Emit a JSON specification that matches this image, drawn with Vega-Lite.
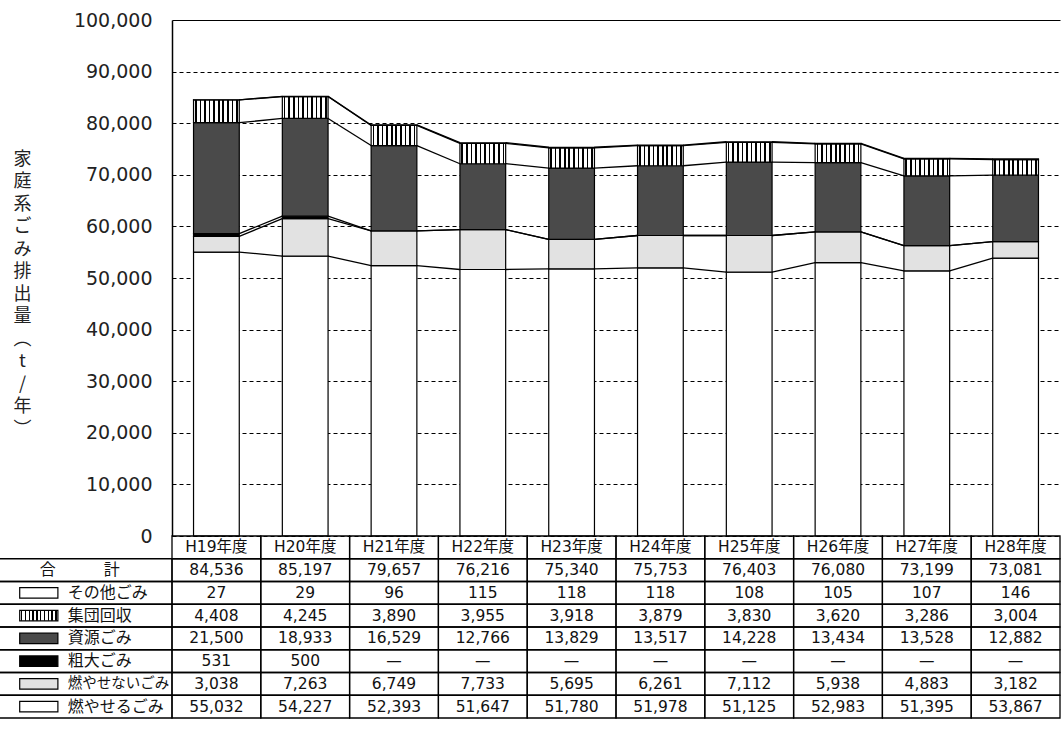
{
  "$schema": "https://vega.github.io/schema/vega-lite/v6.json",
  "width": 888,
  "height": 516,
  "autosize": {"type": "none"},
  "padding": {"left": 172, "top": 20, "right": 4, "bottom": 209},
  "background": "white",
  "config": {"view": {"stroke": null}},
  "data": {
    "values": [
      {"year": "H19年度", "cat": "燃やせるごみ", "value": 55032},
      {"year": "H20年度", "cat": "燃やせるごみ", "value": 54227},
      {"year": "H21年度", "cat": "燃やせるごみ", "value": 52393},
      {"year": "H22年度", "cat": "燃やせるごみ", "value": 51647},
      {"year": "H23年度", "cat": "燃やせるごみ", "value": 51780},
      {"year": "H24年度", "cat": "燃やせるごみ", "value": 51978},
      {"year": "H25年度", "cat": "燃やせるごみ", "value": 51125},
      {"year": "H26年度", "cat": "燃やせるごみ", "value": 52983},
      {"year": "H27年度", "cat": "燃やせるごみ", "value": 51395},
      {"year": "H28年度", "cat": "燃やせるごみ", "value": 53867},
      {"year": "H19年度", "cat": "燃やせないごみ", "value": 3038},
      {"year": "H20年度", "cat": "燃やせないごみ", "value": 7263},
      {"year": "H21年度", "cat": "燃やせないごみ", "value": 6749},
      {"year": "H22年度", "cat": "燃やせないごみ", "value": 7733},
      {"year": "H23年度", "cat": "燃やせないごみ", "value": 5695},
      {"year": "H24年度", "cat": "燃やせないごみ", "value": 6261},
      {"year": "H25年度", "cat": "燃やせないごみ", "value": 7112},
      {"year": "H26年度", "cat": "燃やせないごみ", "value": 5938},
      {"year": "H27年度", "cat": "燃やせないごみ", "value": 4883},
      {"year": "H28年度", "cat": "燃やせないごみ", "value": 3182},
      {"year": "H19年度", "cat": "粗大ごみ", "value": 531},
      {"year": "H20年度", "cat": "粗大ごみ", "value": 500},
      {"year": "H21年度", "cat": "粗大ごみ", "value": null},
      {"year": "H22年度", "cat": "粗大ごみ", "value": null},
      {"year": "H23年度", "cat": "粗大ごみ", "value": null},
      {"year": "H24年度", "cat": "粗大ごみ", "value": null},
      {"year": "H25年度", "cat": "粗大ごみ", "value": null},
      {"year": "H26年度", "cat": "粗大ごみ", "value": null},
      {"year": "H27年度", "cat": "粗大ごみ", "value": null},
      {"year": "H28年度", "cat": "粗大ごみ", "value": null},
      {"year": "H19年度", "cat": "資源ごみ", "value": 21500},
      {"year": "H20年度", "cat": "資源ごみ", "value": 18933},
      {"year": "H21年度", "cat": "資源ごみ", "value": 16529},
      {"year": "H22年度", "cat": "資源ごみ", "value": 12766},
      {"year": "H23年度", "cat": "資源ごみ", "value": 13829},
      {"year": "H24年度", "cat": "資源ごみ", "value": 13517},
      {"year": "H25年度", "cat": "資源ごみ", "value": 14228},
      {"year": "H26年度", "cat": "資源ごみ", "value": 13434},
      {"year": "H27年度", "cat": "資源ごみ", "value": 13528},
      {"year": "H28年度", "cat": "資源ごみ", "value": 12882},
      {"year": "H19年度", "cat": "集団回収", "value": 4408},
      {"year": "H20年度", "cat": "集団回収", "value": 4245},
      {"year": "H21年度", "cat": "集団回収", "value": 3890},
      {"year": "H22年度", "cat": "集団回収", "value": 3955},
      {"year": "H23年度", "cat": "集団回収", "value": 3918},
      {"year": "H24年度", "cat": "集団回収", "value": 3879},
      {"year": "H25年度", "cat": "集団回収", "value": 3830},
      {"year": "H26年度", "cat": "集団回収", "value": 3620},
      {"year": "H27年度", "cat": "集団回収", "value": 3286},
      {"year": "H28年度", "cat": "集団回収", "value": 3004},
      {"year": "H19年度", "cat": "その他ごみ", "value": 27},
      {"year": "H20年度", "cat": "その他ごみ", "value": 29},
      {"year": "H21年度", "cat": "その他ごみ", "value": 96},
      {"year": "H22年度", "cat": "その他ごみ", "value": 115},
      {"year": "H23年度", "cat": "その他ごみ", "value": 118},
      {"year": "H24年度", "cat": "その他ごみ", "value": 118},
      {"year": "H25年度", "cat": "その他ごみ", "value": 108},
      {"year": "H26年度", "cat": "その他ごみ", "value": 105},
      {"year": "H27年度", "cat": "その他ごみ", "value": 107},
      {"year": "H28年度", "cat": "その他ごみ", "value": 146}
    ]
  },
  "layer": [
    {
      "transform": [
        {"calculate": "indexof(['燃やせるごみ','燃やせないごみ','粗大ごみ','資源ごみ','集団回収','その他ごみ'], datum.cat)", "as": "ord"},
        {"stack": "value", "groupby": ["year"], "sort": [{"field": "ord", "order": "ascending"}], "as": ["bot", "top"]}
      ],
      "layer": [
        {
          "transform": [{"filter": "datum.value != null"}],
          "mark": {"type": "bar", "width": {"band": 0.515}, "stroke": "#000", "strokeWidth": 1.2},
          "encoding": {
            "x": {"field": "year", "type": "nominal", "axis": null,
                  "scale": {"domain": ["H19年度", "H20年度", "H21年度", "H22年度", "H23年度", "H24年度", "H25年度", "H26年度", "H27年度", "H28年度"], "paddingInner": 0, "paddingOuter": 0}},
            "y": {"field": "bot", "type": "quantitative",
                  "scale": {"domain": [0, 100000], "nice": false},
                  "axis": {
                    "values": [0, 10000, 20000, 30000, 40000, 50000, 60000, 70000, 80000, 90000, 100000],
                    "format": ",.0f",
                    "labelFont": "DejaVu Sans", "labelFontSize": 19, "labelColor": "#222", "labelPadding": 20,
                    "ticks": false,
                    "domain": true, "domainColor": "#000", "domainWidth": 1.5,
                    "grid": true, "gridColor": "#000", "gridWidth": 1, "gridOpacity": 1,
                    "gridDash": {"condition": {"test": "datum.value === 100000", "value": []}, "value": [4, 3]},
                    "title": ["家", "庭", "系", "ご", "み", "排", "出", "量", "︵", "t", "/", "年", "︶"],
                    "titleFont": "Noto Sans CJK JP", "titleFontSize": 18, "titleFontWeight": "normal", "titleColor": "#222",
                    "titleAngle": 0, "titleAlign": "center", "titleBaseline": "middle", "titleLineHeight": 22.5,
                    "titleX": -150, "titleY": 139
                  }},
            "y2": {"field": "top"},
            "fill": {
              "condition": [
                {"test": "datum.cat === '集団回収'", "value": {"gradient": "linear", "x1": 0, "y1": 0, "x2": 1, "y2": 0, "stops": [
                  {"offset": 0, "color": "#fff"},
                  {"offset": 0.032, "color": "#fff"}, {"offset": 0.032, "color": "#000"}, {"offset": 0.068, "color": "#000"}, {"offset": 0.068, "color": "#fff"},
                  {"offset": 0.132, "color": "#fff"}, {"offset": 0.132, "color": "#000"}, {"offset": 0.168, "color": "#000"}, {"offset": 0.168, "color": "#fff"},
                  {"offset": 0.232, "color": "#fff"}, {"offset": 0.232, "color": "#000"}, {"offset": 0.268, "color": "#000"}, {"offset": 0.268, "color": "#fff"},
                  {"offset": 0.332, "color": "#fff"}, {"offset": 0.332, "color": "#000"}, {"offset": 0.368, "color": "#000"}, {"offset": 0.368, "color": "#fff"},
                  {"offset": 0.432, "color": "#fff"}, {"offset": 0.432, "color": "#000"}, {"offset": 0.468, "color": "#000"}, {"offset": 0.468, "color": "#fff"},
                  {"offset": 0.532, "color": "#fff"}, {"offset": 0.532, "color": "#000"}, {"offset": 0.568, "color": "#000"}, {"offset": 0.568, "color": "#fff"},
                  {"offset": 0.632, "color": "#fff"}, {"offset": 0.632, "color": "#000"}, {"offset": 0.668, "color": "#000"}, {"offset": 0.668, "color": "#fff"},
                  {"offset": 0.732, "color": "#fff"}, {"offset": 0.732, "color": "#000"}, {"offset": 0.768, "color": "#000"}, {"offset": 0.768, "color": "#fff"},
                  {"offset": 0.832, "color": "#fff"}, {"offset": 0.832, "color": "#000"}, {"offset": 0.868, "color": "#000"}, {"offset": 0.868, "color": "#fff"},
                  {"offset": 0.932, "color": "#fff"}, {"offset": 0.932, "color": "#000"}, {"offset": 0.968, "color": "#000"}, {"offset": 0.968, "color": "#fff"},
                  {"offset": 1, "color": "#fff"}
                ]}},
                {"test": "datum.cat === '資源ごみ'", "value": "#4a4a4a"},
                {"test": "datum.cat === '粗大ごみ'", "value": "#000000"},
                {"test": "datum.cat === '燃やせないごみ'", "value": "#e2e2e2"}
              ],
              "value": "#ffffff"
            }
          }
        },
        {
          "transform": [
            {"window": [{"op": "lead", "field": "top", "as": "nextTop"}, {"op": "lead", "field": "year", "as": "nextYear"}],
             "groupby": ["cat"], "sort": [{"field": "year", "order": "ascending"}]},
            {"filter": "datum.nextYear != null"}
          ],
          "mark": {"type": "rule", "color": "#000", "strokeWidth": 1.3},
          "encoding": {
            "x": {"field": "year", "type": "nominal", "bandPosition": 0.7575, "axis": null,
                  "scale": {"domain": ["H19年度", "H20年度", "H21年度", "H22年度", "H23年度", "H24年度", "H25年度", "H26年度", "H27年度", "H28年度"], "paddingInner": 0, "paddingOuter": 0}},
            "x2": {"field": "nextYear", "bandPosition": 0.2425},
            "y": {"field": "top", "type": "quantitative", "scale": {"domain": [0, 100000], "nice": false}},
            "y2": {"field": "nextTop"}
          }
        }
      ]
    },
    {
      "layer": [
        {
          "layer": [
            {
              "mark": {"type": "rect", "fill": "#fff", "fillOpacity": 0, "stroke": "#000", "strokeWidth": 1.3},
              "encoding": {
                "x": {"field": "year", "type": "nominal", "axis": null,
                      "scale": {"domain": ["凡例", "区分", "H19年度", "H20年度", "H21年度", "H22年度", "H23年度", "H24年度", "H25年度", "H26年度", "H27年度", "H28年度"], "range": [-177.6, 888], "paddingInner": 0, "paddingOuter": 0}},
                "y": {"field": "cat", "type": "nominal", "axis": null,
                      "scale": {"domain": ["年度", "合計", "その他ごみ", "集団回収", "資源ごみ", "粗大ごみ", "燃やせないごみ", "燃やせるごみ"], "range": [516, 698], "paddingInner": 0, "paddingOuter": 0}}
              }
            },
            {
              "mark": {"type": "text", "font": "DejaVu Sans", "fontSize": 15.5, "color": "#111", "baseline": "middle", "align": "center"},
              "encoding": {
                "x": {"field": "year", "type": "nominal", "axis": null,
                      "scale": {"domain": ["凡例", "区分", "H19年度", "H20年度", "H21年度", "H22年度", "H23年度", "H24年度", "H25年度", "H26年度", "H27年度", "H28年度"], "range": [-177.6, 888], "paddingInner": 0, "paddingOuter": 0}},
                "y": {"field": "cat", "type": "nominal", "axis": null,
                      "scale": {"domain": ["年度", "合計", "その他ごみ", "集団回収", "資源ごみ", "粗大ごみ", "燃やせないごみ", "燃やせるごみ"], "range": [516, 698], "paddingInner": 0, "paddingOuter": 0}},
                "text": {"condition": {"test": "datum.value === null", "value": "—"}, "field": "value", "type": "quantitative", "format": ","}
              }
            }
          ]
        },
        {
          "transform": [{"aggregate": [{"op": "sum", "field": "value", "as": "total"}], "groupby": ["year"]}],
          "layer": [
            {
              "mark": {"type": "rect", "fill": "#fff", "fillOpacity": 0, "stroke": "#000", "strokeWidth": 1.3},
              "encoding": {
                "x": {"field": "year", "type": "nominal", "axis": null,
                      "scale": {"domain": ["凡例", "区分", "H19年度", "H20年度", "H21年度", "H22年度", "H23年度", "H24年度", "H25年度", "H26年度", "H27年度", "H28年度"], "range": [-177.6, 888], "paddingInner": 0, "paddingOuter": 0}},
                "y": {"datum": "年度", "type": "nominal", "axis": null,
                      "scale": {"domain": ["年度", "合計", "その他ごみ", "集団回収", "資源ごみ", "粗大ごみ", "燃やせないごみ", "燃やせるごみ"], "range": [516, 698], "paddingInner": 0, "paddingOuter": 0}}
              }
            },
            {
              "mark": {"type": "text", "font": "DejaVu Sans, Noto Sans CJK JP", "fontSize": 15.5, "color": "#111", "baseline": "middle", "align": "center"},
              "encoding": {
                "x": {"field": "year", "type": "nominal", "axis": null,
                      "scale": {"domain": ["凡例", "区分", "H19年度", "H20年度", "H21年度", "H22年度", "H23年度", "H24年度", "H25年度", "H26年度", "H27年度", "H28年度"], "range": [-177.6, 888], "paddingInner": 0, "paddingOuter": 0}},
                "y": {"datum": "年度", "type": "nominal", "axis": null,
                      "scale": {"domain": ["年度", "合計", "その他ごみ", "集団回収", "資源ごみ", "粗大ごみ", "燃やせないごみ", "燃やせるごみ"], "range": [516, 698], "paddingInner": 0, "paddingOuter": 0}},
                "text": {"field": "year", "type": "nominal"}
              }
            },
            {
              "mark": {"type": "rect", "fill": "#fff", "fillOpacity": 0, "stroke": "#000", "strokeWidth": 1.3},
              "encoding": {
                "x": {"field": "year", "type": "nominal", "axis": null,
                      "scale": {"domain": ["凡例", "区分", "H19年度", "H20年度", "H21年度", "H22年度", "H23年度", "H24年度", "H25年度", "H26年度", "H27年度", "H28年度"], "range": [-177.6, 888], "paddingInner": 0, "paddingOuter": 0}},
                "y": {"datum": "合計", "type": "nominal", "axis": null,
                      "scale": {"domain": ["年度", "合計", "その他ごみ", "集団回収", "資源ごみ", "粗大ごみ", "燃やせないごみ", "燃やせるごみ"], "range": [516, 698], "paddingInner": 0, "paddingOuter": 0}}
              }
            },
            {
              "mark": {"type": "text", "font": "DejaVu Sans", "fontSize": 15.5, "color": "#111", "baseline": "middle", "align": "center"},
              "encoding": {
                "x": {"field": "year", "type": "nominal", "axis": null,
                      "scale": {"domain": ["凡例", "区分", "H19年度", "H20年度", "H21年度", "H22年度", "H23年度", "H24年度", "H25年度", "H26年度", "H27年度", "H28年度"], "range": [-177.6, 888], "paddingInner": 0, "paddingOuter": 0}},
                "y": {"datum": "合計", "type": "nominal", "axis": null,
                      "scale": {"domain": ["年度", "合計", "その他ごみ", "集団回収", "資源ごみ", "粗大ごみ", "燃やせないごみ", "燃やせるごみ"], "range": [516, 698], "paddingInner": 0, "paddingOuter": 0}},
                "text": {"field": "total", "type": "quantitative", "format": ","}
              }
            }
          ]
        },
        {
          "transform": [{"aggregate": [{"op": "count", "as": "n"}], "groupby": ["cat"]}],
          "layer": [
            {
              "mark": {"type": "rect", "fill": "#fff", "fillOpacity": 0, "stroke": "#000", "strokeWidth": 1.3},
              "encoding": {
                "x": {"datum": "凡例", "type": "nominal", "bandPosition": 0, "axis": null,
                      "scale": {"domain": ["凡例", "区分", "H19年度", "H20年度", "H21年度", "H22年度", "H23年度", "H24年度", "H25年度", "H26年度", "H27年度", "H28年度"], "range": [-177.6, 888], "paddingInner": 0, "paddingOuter": 0}},
                "x2": {"datum": "区分", "bandPosition": 1},
                "y": {"field": "cat", "type": "nominal", "axis": null,
                      "scale": {"domain": ["年度", "合計", "その他ごみ", "集団回収", "資源ごみ", "粗大ごみ", "燃やせないごみ", "燃やせるごみ"], "range": [516, 698], "paddingInner": 0, "paddingOuter": 0}}
              }
            },
            {
              "mark": {"type": "rect", "width": {"band": 0.43}, "height": {"band": 0.46}, "stroke": "#000", "strokeWidth": 1.2},
              "encoding": {
                "x": {"datum": "凡例", "type": "nominal", "axis": null,
                      "scale": {"domain": ["凡例", "区分", "H19年度", "H20年度", "H21年度", "H22年度", "H23年度", "H24年度", "H25年度", "H26年度", "H27年度", "H28年度"], "range": [-177.6, 888], "paddingInner": 0, "paddingOuter": 0}},
                "y": {"field": "cat", "type": "nominal", "axis": null,
                      "scale": {"domain": ["年度", "合計", "その他ごみ", "集団回収", "資源ごみ", "粗大ごみ", "燃やせないごみ", "燃やせるごみ"], "range": [516, 698], "paddingInner": 0, "paddingOuter": 0}},
                "fill": {
                  "condition": [
                    {"test": "datum.cat === '集団回収'", "value": {"gradient": "linear", "x1": 0, "y1": 0, "x2": 1, "y2": 0, "stops": [
                      {"offset": 0, "color": "#fff"},
                      {"offset": 0.032, "color": "#fff"}, {"offset": 0.032, "color": "#000"}, {"offset": 0.068, "color": "#000"}, {"offset": 0.068, "color": "#fff"},
                      {"offset": 0.132, "color": "#fff"}, {"offset": 0.132, "color": "#000"}, {"offset": 0.168, "color": "#000"}, {"offset": 0.168, "color": "#fff"},
                      {"offset": 0.232, "color": "#fff"}, {"offset": 0.232, "color": "#000"}, {"offset": 0.268, "color": "#000"}, {"offset": 0.268, "color": "#fff"},
                      {"offset": 0.332, "color": "#fff"}, {"offset": 0.332, "color": "#000"}, {"offset": 0.368, "color": "#000"}, {"offset": 0.368, "color": "#fff"},
                      {"offset": 0.432, "color": "#fff"}, {"offset": 0.432, "color": "#000"}, {"offset": 0.468, "color": "#000"}, {"offset": 0.468, "color": "#fff"},
                      {"offset": 0.532, "color": "#fff"}, {"offset": 0.532, "color": "#000"}, {"offset": 0.568, "color": "#000"}, {"offset": 0.568, "color": "#fff"},
                      {"offset": 0.632, "color": "#fff"}, {"offset": 0.632, "color": "#000"}, {"offset": 0.668, "color": "#000"}, {"offset": 0.668, "color": "#fff"},
                      {"offset": 0.732, "color": "#fff"}, {"offset": 0.732, "color": "#000"}, {"offset": 0.768, "color": "#000"}, {"offset": 0.768, "color": "#fff"},
                      {"offset": 0.832, "color": "#fff"}, {"offset": 0.832, "color": "#000"}, {"offset": 0.868, "color": "#000"}, {"offset": 0.868, "color": "#fff"},
                      {"offset": 0.932, "color": "#fff"}, {"offset": 0.932, "color": "#000"}, {"offset": 0.968, "color": "#000"}, {"offset": 0.968, "color": "#fff"},
                      {"offset": 1, "color": "#fff"}
                    ]}},
                    {"test": "datum.cat === '資源ごみ'", "value": "#4a4a4a"},
                    {"test": "datum.cat === '粗大ごみ'", "value": "#000000"},
                    {"test": "datum.cat === '燃やせないごみ'", "value": "#e2e2e2"}
                  ],
                  "value": "#ffffff"
                }
              }
            },
            {
              "mark": {"type": "text", "font": "Noto Sans CJK JP", "color": "#111", "baseline": "middle", "align": "left"},
              "encoding": {
                "x": {"datum": "凡例", "type": "nominal", "bandPosition": 0.826, "axis": null,
                      "scale": {"domain": ["凡例", "区分", "H19年度", "H20年度", "H21年度", "H22年度", "H23年度", "H24年度", "H25年度", "H26年度", "H27年度", "H28年度"], "range": [-177.6, 888], "paddingInner": 0, "paddingOuter": 0}},
                "y": {"field": "cat", "type": "nominal", "axis": null,
                      "scale": {"domain": ["年度", "合計", "その他ごみ", "集団回収", "資源ごみ", "粗大ごみ", "燃やせないごみ", "燃やせるごみ"], "range": [516, 698], "paddingInner": 0, "paddingOuter": 0}},
                "text": {"field": "cat", "type": "nominal"},
                "size": {"condition": {"test": "datum.cat === '燃やせないごみ'", "value": 14.5}, "value": 16}
              }
            }
          ]
        },
        {
          "transform": [{"aggregate": [{"op": "sum", "field": "value", "as": "all"}]}],
          "layer": [
            {
              "mark": {"type": "rect", "fill": "#fff", "fillOpacity": 0, "stroke": "#000", "strokeWidth": 1.3},
              "encoding": {
                "x": {"datum": "凡例", "type": "nominal", "bandPosition": 0, "axis": null,
                      "scale": {"domain": ["凡例", "区分", "H19年度", "H20年度", "H21年度", "H22年度", "H23年度", "H24年度", "H25年度", "H26年度", "H27年度", "H28年度"], "range": [-177.6, 888], "paddingInner": 0, "paddingOuter": 0}},
                "x2": {"datum": "区分", "bandPosition": 1},
                "y": {"datum": "合計", "type": "nominal", "axis": null,
                      "scale": {"domain": ["年度", "合計", "その他ごみ", "集団回収", "資源ごみ", "粗大ごみ", "燃やせないごみ", "燃やせるごみ"], "range": [516, 698], "paddingInner": 0, "paddingOuter": 0}}
              }
            },
            {
              "mark": {"type": "text", "font": "Noto Sans CJK JP", "fontSize": 16, "color": "#111", "baseline": "middle", "align": "center", "text": "合　　　計"},
              "encoding": {
                "x": {"datum": "凡例", "type": "nominal", "bandPosition": 0.96, "axis": null,
                      "scale": {"domain": ["凡例", "区分", "H19年度", "H20年度", "H21年度", "H22年度", "H23年度", "H24年度", "H25年度", "H26年度", "H27年度", "H28年度"], "range": [-177.6, 888], "paddingInner": 0, "paddingOuter": 0}},
                "y": {"datum": "合計", "type": "nominal", "axis": null,
                      "scale": {"domain": ["年度", "合計", "その他ごみ", "集団回収", "資源ごみ", "粗大ごみ", "燃やせないごみ", "燃やせるごみ"], "range": [516, 698], "paddingInner": 0, "paddingOuter": 0}}
              }
            }
          ]
        }
      ]
    }
  ],
  "resolve": {"scale": {"x": "independent", "y": "independent"}}
}
